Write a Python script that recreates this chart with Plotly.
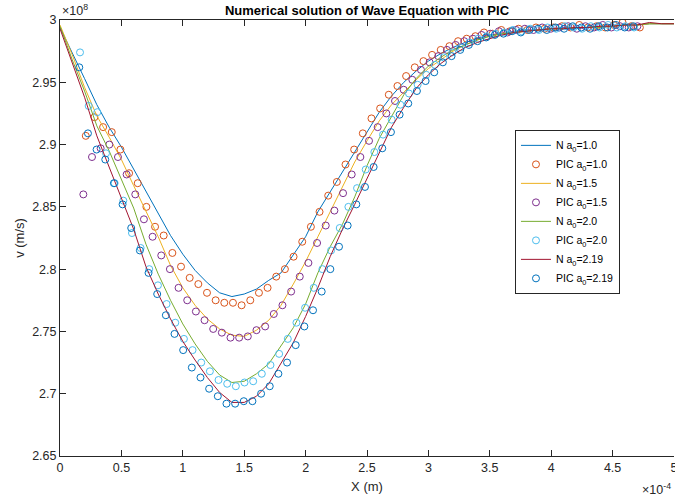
import numpy as np
import plotly.graph_objects as go

# x positions in units of 1e-4 m, velocities in units of 1e8 m/s
x_n = [round(0.1 * i, 1) for i in range(51)]

n_10 = [2.994, 2.974, 2.953, 2.932, 2.914, 2.898, 2.880, 2.862, 2.845, 2.827,
        2.812, 2.799, 2.789, 2.781, 2.778, 2.780, 2.784, 2.791, 2.797, 2.811,
        2.826, 2.846, 2.862, 2.879, 2.895, 2.910, 2.926, 2.939, 2.950, 2.959,
        2.967, 2.973, 2.978, 2.982, 2.985, 2.988, 2.989, 2.991, 2.992, 2.992,
        2.993, 2.994, 2.993, 2.994, 2.995, 2.995, 2.996, 2.996, 2.997, 2.997, 2.997]
n_15 = [2.996, 2.972, 2.946, 2.923, 2.906, 2.888, 2.867, 2.846, 2.826, 2.803,
        2.785, 2.771, 2.760, 2.752, 2.747, 2.746, 2.751, 2.759, 2.771, 2.788,
        2.806, 2.826, 2.846, 2.866, 2.886, 2.903, 2.919, 2.932, 2.942, 2.952,
        2.961, 2.968, 2.975, 2.980, 2.984, 2.987, 2.989, 2.990, 2.991, 2.992,
        2.993, 2.993, 2.994, 2.994, 2.995, 2.995, 2.996, 2.996, 2.997, 2.997, 2.997]
n_20 = [2.995, 2.968, 2.943, 2.915, 2.895, 2.872, 2.849, 2.820, 2.796, 2.775,
        2.756, 2.740, 2.726, 2.715, 2.709, 2.710, 2.716, 2.724, 2.738, 2.753,
        2.772, 2.797, 2.818, 2.836, 2.858, 2.883, 2.905, 2.923, 2.940, 2.953,
        2.963, 2.970, 2.976, 2.980, 2.984, 2.987, 2.989, 2.990, 2.991, 2.992,
        2.993, 2.993, 2.994, 2.994, 2.994, 2.995, 2.996, 2.996, 2.997, 2.997, 2.997]
n_219 = [2.993, 2.966, 2.938, 2.907, 2.882, 2.858, 2.832, 2.802, 2.780, 2.760,
         2.742, 2.727, 2.713, 2.701, 2.693, 2.693, 2.698, 2.708, 2.724, 2.741,
         2.762, 2.785, 2.810, 2.832, 2.852, 2.873, 2.894, 2.914, 2.930, 2.945,
         2.956, 2.965, 2.972, 2.978, 2.982, 2.985, 2.988, 2.990, 2.991, 2.992,
         2.993, 2.993, 2.994, 2.994, 2.995, 2.995, 2.996, 2.996, 2.998, 2.997, 2.997]

pic_step = 0.0705
pic_start = {"1.0": 0.21, "1.5": 0.19, "2.0": 0.163, "2.19": 0.157}

pic_10 = [2.907, 2.922, 2.914, 2.910, 2.896, 2.877, 2.869, 2.850, 2.834, 2.827,
          2.813, 2.802, 2.793, 2.788, 2.781, 2.775, 2.773, 2.773, 2.771, 2.775,
          2.781, 2.785, 2.794, 2.800, 2.810, 2.822, 2.834, 2.846, 2.859, 2.870,
          2.884, 2.896, 2.909, 2.921, 2.929, 2.940, 2.947, 2.955, 2.962, 2.967,
          2.972, 2.976, 2.979, 2.983, 2.985, 2.987, 2.990, 2.989, 2.992, 2.991,
          2.993, 2.992, 2.994, 2.993, 2.994, 2.995, 2.994, 2.996, 2.994, 2.995,
          2.994, 2.996, 2.998, 2.995, 2.994]
pic_15 = [2.860, 2.890, 2.897, 2.900, 2.890, 2.876, 2.860, 2.840, 2.826, 2.811,
          2.800, 2.785, 2.775, 2.766, 2.759, 2.752, 2.749, 2.745, 2.745, 2.746,
          2.751, 2.754, 2.764, 2.771, 2.782, 2.794, 2.805, 2.821, 2.835, 2.847,
          2.861, 2.876, 2.890, 2.903, 2.914, 2.925, 2.935, 2.944, 2.952, 2.960,
          2.966, 2.971, 2.976, 2.980, 2.983, 2.985, 2.988, 2.989, 2.991, 2.990,
          2.992, 2.993, 2.992, 2.994, 2.993, 2.994, 2.995, 2.993, 2.995, 2.994,
          2.996, 2.994, 2.995, 2.994, 2.995]
pic_20 = [2.974, 2.931, 2.926, 2.893, 2.869, 2.855, 2.829, 2.817, 2.800, 2.787,
          2.772, 2.757, 2.744, 2.735, 2.725, 2.718, 2.711, 2.708, 2.706, 2.709,
          2.710, 2.716, 2.723, 2.732, 2.744, 2.757, 2.769, 2.785, 2.800, 2.815,
          2.833, 2.850, 2.865, 2.880, 2.894, 2.908, 2.920, 2.932, 2.941, 2.948,
          2.956, 2.964, 2.970, 2.974, 2.978, 2.982, 2.985, 2.987, 2.989, 2.990,
          2.992, 2.991, 2.993, 2.992, 2.994, 2.993, 2.995, 2.994, 2.993, 2.995,
          2.994, 2.996, 2.994, 2.995, 2.994]
pic_219 = [2.962, 2.909, 2.896, 2.888, 2.869, 2.852, 2.833, 2.815, 2.797, 2.780,
           2.763, 2.748, 2.735, 2.721, 2.713, 2.704, 2.698, 2.692, 2.692, 2.694,
           2.694, 2.700, 2.706, 2.716, 2.725, 2.739, 2.754, 2.767, 2.782, 2.800,
           2.818, 2.835, 2.852, 2.866, 2.882, 2.897, 2.910, 2.924, 2.933, 2.943,
           2.951, 2.958, 2.966, 2.971, 2.976, 2.980, 2.983, 2.986, 2.988, 2.989,
           2.991, 2.990, 2.992, 2.993, 2.992, 2.994, 2.993, 2.995, 2.994, 2.993,
           2.995, 2.994, 2.996, 2.994, 2.995]

x_ticks = [0, 0.5, 1, 1.5, 2, 2.5, 3, 3.5, 4, 4.5, 5]
x_ticktext = ["0", "0.5", "1", "1.5", "2", "2.5", "3", "3.5", "4", "4.5", "5"]
y_ticks = [2.65, 2.7, 2.75, 2.8, 2.85, 2.9, 2.95, 3.0]
y_ticktext = ["2.65", "2.7", "2.75", "2.8", "2.85", "2.9", "2.95", "3"]

C_BLUE = "#0072BD"
C_ORANGE = "#D95319"
C_YELLOW = "#EDB120"
C_PURPLE = "#7E2F8E"
C_GREEN = "#77AC30"
C_CYAN = "#4DBEEE"
C_RED = "#A2142F"

FONT = "Liberation Sans, Arial, Helvetica, sans-serif"
AX = "#262626"


def pic_x(key, n):
    return list(np.round(pic_start[key] + pic_step * np.arange(n), 4))


fig = go.Figure()

series = [
    ("N a<sub>0</sub>=1.0", "line", x_n, n_10, C_BLUE),
    ("PIC a<sub>0</sub>=1.0", "pic", pic_x("1.0", len(pic_10)), pic_10, C_ORANGE),
    ("N a<sub>0</sub>=1.5", "line", x_n, n_15, C_YELLOW),
    ("PIC a<sub>0</sub>=1.5", "pic", pic_x("1.5", len(pic_15)), pic_15, C_PURPLE),
    ("N a<sub>0</sub>=2.0", "line", x_n, n_20, C_GREEN),
    ("PIC a<sub>0</sub>=2.0", "pic", pic_x("2.0", len(pic_20)), pic_20, C_CYAN),
    ("N a<sub>0</sub>=2.19", "line", x_n, n_219, C_RED),
    ("PIC a<sub>0</sub>=2.19", "pic", pic_x("2.19", len(pic_219)), pic_219, C_BLUE),
]

for i, (name, kind, xs, ys, col) in enumerate(series):
    if kind == "line":
        fig.add_trace(go.Scatter(x=xs, y=ys, mode="lines", name=name,
                                 line=dict(color=col, width=1)))
    else:
        fig.add_trace(go.Scatter(x=xs, y=ys, mode="markers", name=name,
                                 marker=dict(symbol="circle-open", size=7,
                                             color=col, line=dict(width=1, color=col))))

fig.update_layout(
    width=675, height=500,
    margin=dict(l=60, r=1, t=20, b=44, autoexpand=False),
    paper_bgcolor="white", plot_bgcolor="white",
    font=dict(family=FONT, size=12, color=AX),
    title=dict(text="<b>Numerical solution of Wave Equation with PIC</b>",
               x=0.5, xref="paper", xanchor="center",
               y=0.979, yref="container", yanchor="middle",
               font=dict(family=FONT, size=13, color="black"), automargin=False),
    showlegend=True,
    legend=dict(x=0.741, y=0.748, xanchor="left", yanchor="top",
                bgcolor="white", bordercolor=AX, borderwidth=1,
                font=dict(family=FONT, size=10.5, color="black"),
                tracegroupgap=0, itemwidth=30),
    xaxis=dict(range=[0, 5], tickvals=x_ticks, ticktext=x_ticktext,
               showgrid=False, zeroline=False, automargin=False,
               showline=True, linecolor=AX, linewidth=1, mirror="ticks",
               ticks="inside", ticklen=6, tickcolor=AX,
               ticklabeloverflow="allow",
               tickfont=dict(family=FONT, size=12.5, color=AX),
               title=dict(text="X (m)", standoff=7,
                          font=dict(family=FONT, size=13, color=AX))),
    yaxis=dict(range=[2.65, 3.0], tickvals=y_ticks, ticktext=y_ticktext,
               showgrid=False, zeroline=False, automargin=False,
               showline=True, linecolor=AX, linewidth=1, mirror=False,
               ticks="inside", ticklen=6, tickcolor=AX,
               tickfont=dict(family=FONT, size=12.5, color=AX),
               title=dict(text="v (m/s)", standoff=4,
                          font=dict(family=FONT, size=13, color=AX))),
    annotations=[
        dict(text="\u00d710<sup>8</sup>", xref="paper", yref="paper",
             x=0.0, y=1.0, xanchor="left", yanchor="bottom", yshift=0,
             showarrow=False, font=dict(family=FONT, size=12.5, color=AX)),
        dict(text="\u00d710<sup>-4</sup>", xref="paper", yref="paper",
             x=0.944, y=-0.052, xanchor="left", yanchor="top",
             showarrow=False, font=dict(family=FONT, size=12.5, color=AX)),
    ],
)

fig.write_html("out.html",
               config={"displayModeBar": False, "staticPlot": True},
               post_script="document.body.style.margin='0';document.body.style.overflow='hidden';")
